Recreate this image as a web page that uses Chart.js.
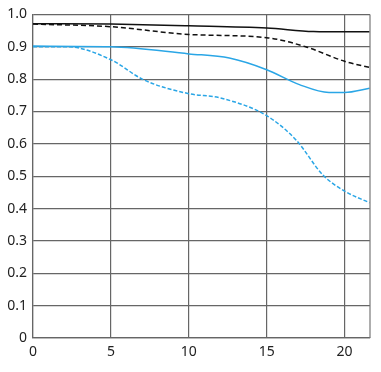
<!DOCTYPE html>
<html>
<head>
<meta charset="utf-8">
<script src="https://cdn.jsdelivr.net/npm/chart.js@4"></script>
<style>
  html, body { margin: 0; padding: 0; background: #fff; }
  #wrap { width: 381px; height: 372px; }
</style>
</head>
<body>
<div id="wrap"><canvas id="chartMTF"></canvas></div>
<script>
// image height positions (mm) and MTF values
const posBlackSolid = [0, 5, 10, 15, 18, 20, 21.6];
const valBlackSolid = [0.971, 0.970, 0.965, 0.958, 0.947, 0.946, 0.946];

const posBlackDash = [0, 5, 10, 15, 17.5, 20, 21.6];
const valBlackDash = [0.970, 0.962, 0.938, 0.928, 0.900, 0.855, 0.836];

const posBlueSolid = [0, 5, 10, 12.6, 15, 17.1, 19, 20, 21.6];
const valBlueSolid = [0.902, 0.900, 0.878, 0.865, 0.829, 0.783, 0.759, 0.759, 0.772];

const posBlueDash = [0, 2.2, 5, 7.1, 10, 12, 15, 16.9, 18.6, 20, 21.6];
const valBlueDash = [0.900, 0.900, 0.860, 0.798, 0.755, 0.742, 0.687, 0.611, 0.504, 0.454, 0.418];

const xMax = 21.63;

function pts(xs, ys) {
    return xs.map((x, i) => ({ x: x, y: ys[i] }));
}

const frame = {
    id: "frame",
    afterDraw(chart) {
        const a = chart.chartArea;
        const ctx = chart.ctx;
        ctx.save();
        ctx.strokeStyle = "#777";
        ctx.lineWidth = 1.2;
        ctx.beginPath();
        ctx.moveTo(a.right, a.top);
        ctx.lineTo(a.right, a.bottom);
        ctx.stroke();
        ctx.restore();
    }
};

document.addEventListener("DOMContentLoaded", () => {
    Chart.defaults.font.family = "'Noto Sans', sans-serif";
    Chart.defaults.font.size = 14;
    Chart.defaults.color = "#222";

    const blue = "#2aa6e6";
    const black = "#111";
    const gridCol = "#666";

    new Chart(document.getElementById("chartMTF"), {
        type: "line",
        data: {
            datasets: [
                { data: pts(posBlackSolid, valBlackSolid), borderColor: black, borderWidth: 1.5 },
                { data: pts(posBlackDash, valBlackDash), borderColor: black, borderWidth: 1.5, borderDash: [5, 3] },
                { data: pts(posBlueSolid, valBlueSolid), borderColor: blue, borderWidth: 1.5 },
                { data: pts(posBlueDash, valBlueDash), borderColor: blue, borderWidth: 1.5, borderDash: [4, 2] }
            ]
        },
        options: {
            responsive: true,
            maintainAspectRatio: false,
            animation: false,
            events: [],
            layout: { autoPadding: false, padding: { left: 0, right: 11, top: 11, bottom: 0 } },
            elements: {
                point: { radius: 0 },
                line: { cubicInterpolationMode: "monotone", fill: false }
            },
            plugins: {
                legend: { display: false },
                tooltip: { enabled: false }
            },
            scales: {
                x: {
                    type: "linear",
                    min: 0,
                    max: xMax,
                    ticks: { stepSize: 5, includeBounds: false, padding: 6, maxRotation: 0 },
                    grid: { color: gridCol, lineWidth: 1.2, drawTicks: false },
                    border: { color: gridCol, width: 1.2 },
                    afterFit(s) { s.height = 34; }
                },
                y: {
                    min: 0,
                    max: 1,
                    ticks: {
                        stepSize: 0.1,
                        padding: 6,
                        callback: v => v === 0 ? "0" : v.toFixed(1)
                    },
                    grid: { color: gridCol, lineWidth: 1.2, drawTicks: false },
                    border: { color: gridCol, width: 1.2 },
                    afterFit(s) { s.width = 33; }
                }
            }
        },
        plugins: [frame]
    });
});
</script>
</body>
</html>
